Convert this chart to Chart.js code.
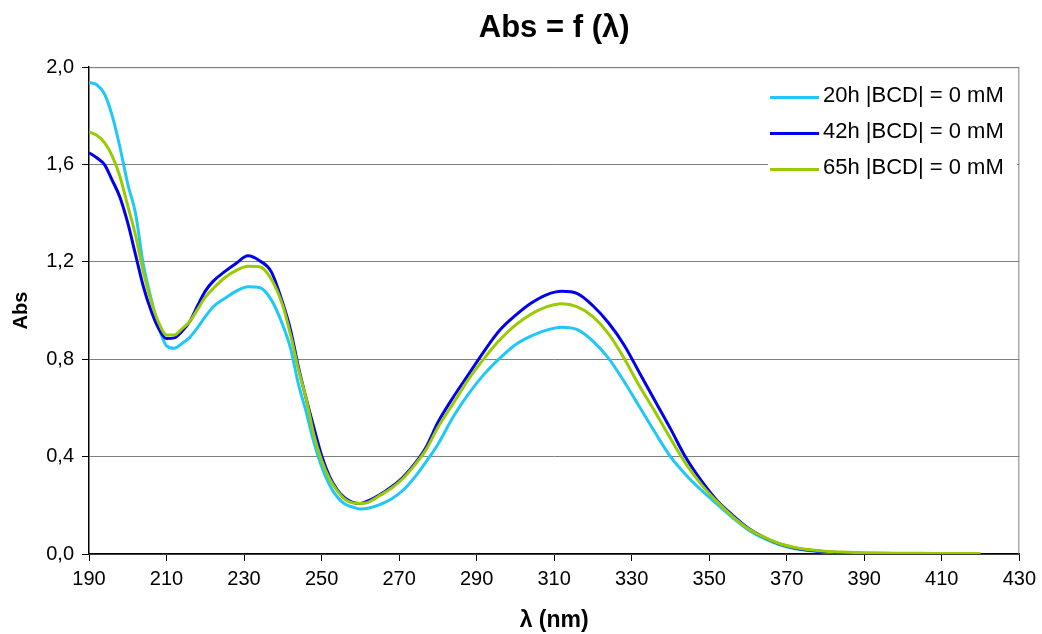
<!DOCTYPE html>
<html>
<head>
<meta charset="utf-8">
<script src="https://cdn.jsdelivr.net/npm/chart.js@4/dist/chart.umd.min.js"></script>
<style>
  html, body { margin: 0; padding: 0; background: #fff; }
  #wrap { width: 1042px; height: 634px; }
</style>
</head>
<body>
<div id="wrap"><canvas id="myChart" width="1042" height="634"></canvas></div>
<script>
// wavelengths (nm) shared by all three spectra
let wavelengths = [190, 192, 194, 196, 198, 200, 202, 204, 206, 208, 210, 212, 214, 216, 218, 220, 222, 225, 228, 231,
    234, 237, 240, 242, 244, 246, 248, 250, 252, 254, 256, 258, 260, 262, 265, 268, 271, 274, 277, 280,
    284, 288, 292, 296, 300, 304, 308, 312, 316, 320, 324, 328, 332, 336, 340, 344, 348, 352, 356, 360,
    364, 368, 372, 376, 380, 384, 388, 392, 396, 400, 405, 410, 415, 420];

let abs20h = [1.937, 1.928, 1.890, 1.80, 1.67, 1.52, 1.40, 1.19, 1.05, 0.93, 0.855, 0.845, 0.865, 0.89, 0.93, 0.975, 1.015, 1.05, 1.08, 1.098,
    1.095, 1.045, 0.94, 0.845, 0.70, 0.585, 0.46, 0.36, 0.285, 0.235, 0.205, 0.193, 0.185, 0.188, 0.203, 0.226, 0.262, 0.315, 0.38, 0.45,
    0.565, 0.66, 0.74, 0.805, 0.86, 0.895, 0.92, 0.932, 0.922, 0.875, 0.805, 0.71, 0.605, 0.50, 0.40, 0.325, 0.262, 0.205, 0.15, 0.10,
    0.065, 0.039, 0.022, 0.013, 0.007, 0.004, 0.003, 0.002, null, null, null, null, null, null];

let abs42h = [1.649, 1.628, 1.60, 1.535, 1.465, 1.36, 1.23, 1.10, 1.00, 0.925, 0.885, 0.888, 0.915, 0.955, 1.02, 1.08, 1.12, 1.16, 1.195, 1.225,
    1.205, 1.16, 1.03, 0.92, 0.77, 0.64, 0.52, 0.405, 0.32, 0.265, 0.23, 0.212, 0.207, 0.218, 0.243, 0.275, 0.315, 0.37, 0.44, 0.54,
    0.645, 0.74, 0.835, 0.92, 0.98, 1.03, 1.065, 1.079, 1.07, 1.02, 0.95, 0.86, 0.745, 0.63, 0.515, 0.395, 0.30, 0.22, 0.16, 0.107,
    0.07, 0.042, 0.025, 0.015, 0.009, 0.005, 0.003, 0.002, null, null, null, null, null, null];

let abs65h = [1.734, 1.72, 1.69, 1.635, 1.55, 1.43, 1.31, 1.16, 1.04, 0.95, 0.90, 0.90, 0.925, 0.955, 1.005, 1.055, 1.09, 1.135, 1.165, 1.182,
    1.18, 1.13, 1.02, 0.90, 0.76, 0.64, 0.49, 0.385, 0.31, 0.26, 0.225, 0.21, 0.207, 0.212, 0.24, 0.27, 0.31, 0.365, 0.43, 0.52,
    0.62, 0.72, 0.805, 0.88, 0.94, 0.985, 1.015, 1.028, 1.015, 0.975, 0.905, 0.805, 0.69, 0.585, 0.475, 0.37, 0.285, 0.215, 0.155, 0.105,
    0.07, 0.043, 0.027, 0.017, 0.011, 0.008, 0.006, 0.005, 0.004, 0.003, 0.003, 0.002, 0.002, 0.002];

let seriesLabels = ["20h |BCD| = 0 mM", "42h |BCD| = 0 mM", "65h |BCD| = 0 mM"];
let seriesColors = ["#1FC8F7", "#0000EE", "#99CC00"];

let FONT = 'Arial, "Liberation Sans", sans-serif';

function toPoints(values) {
    return wavelengths.map((w, i) => ({ x: w, y: values[i] }));
}

// gray frame around the plot area (top + right edges)
const plotFrame = {
    id: 'plotFrame',
    beforeDatasetsDraw(chart) {
        const a = chart.chartArea;
        const c = chart.ctx;
        c.save();
        c.strokeStyle = '#808080';
        c.lineWidth = 1;
        c.beginPath();
        c.moveTo(a.left, a.top + 0.5);
        c.lineTo(a.right - 0.5, a.top + 0.5);
        c.lineTo(a.right - 0.5, a.bottom);
        c.stroke();
        c.restore();
    }
};

// legend drawn inside the plot, top right
const insideLegend = {
    id: 'insideLegend',
    afterDraw(chart) {
        const c = chart.ctx;
        c.save();
        c.fillStyle = '#fff';
        c.fillRect(768, 78, 249, 110);
        const rows = [97.5, 133.5, 169.5];
        c.font = '22px ' + FONT;
        c.textBaseline = 'middle';
        c.textAlign = 'left';
        rows.forEach((y, i) => {
            c.strokeStyle = seriesColors[i];
            c.lineWidth = 3;
            c.beginPath();
            c.moveTo(770, y);
            c.lineTo(819, y);
            c.stroke();
            c.fillStyle = '#000';
            c.fillText(seriesLabels[i], 823, y - 2);
        });
        c.restore();
    }
};

const ctx = document.getElementById('myChart').getContext('2d');
const myChart = new Chart(ctx, {
    type: 'line',
    data: {
        datasets: [0, 1, 2].map((i) => ({
            label: seriesLabels[i],
            data: toPoints([abs20h, abs42h, abs65h][i]),
            borderColor: seriesColors[i],
            backgroundColor: seriesColors[i],
            borderWidth: 3,
            pointRadius: 0,
            cubicInterpolationMode: 'monotone',
            spanGaps: false,
            order: 2 - i
        }))
    },
    options: {
        responsive: false,
        animation: false,
        layout: { padding: { left: 0, right: 22, top: 0, bottom: 0 } },
        plugins: {
            legend: { display: false },
            tooltip: { enabled: false },
            title: {
                display: true,
                fullSize: false,
                text: 'Abs = f (λ)',
                color: '#000',
                font: { family: FONT, size: 31, weight: 'bold' },
                padding: { top: 10, bottom: 20 }
            }
        },
        scales: {
            x: {
                type: 'linear',
                min: 190,
                max: 430,
                afterFit(scale) { scale.height = 80; },
                ticks: {
                    stepSize: 20,
                    color: '#000',
                    font: { family: FONT, size: 20 },
                    padding: 6,
                    maxRotation: 0
                },
                grid: { drawOnChartArea: false, drawTicks: true, tickLength: 7, tickColor: '#000' },
                border: { color: '#000', width: 1.5 },
                title: {
                    display: true,
                    text: 'λ (nm)',
                    color: '#000',
                    font: { family: FONT, size: 23, weight: 'bold' },
                    padding: { top: 0, bottom: 0 }
                }
            },
            y: {
                min: 0,
                max: 2,
                afterFit(scale) { scale.width = 89; },
                ticks: {
                    stepSize: 0.4,
                    color: '#000',
                    font: { family: FONT, size: 20 },
                    padding: 8,
                    callback: (v) => v.toFixed(1).replace('.', ',')
                },
                grid: { color: '#808080', lineWidth: 1, tickLength: 7, tickColor: '#000' },
                border: { color: '#000', width: 1.5 },
                title: {
                    display: true,
                    text: 'Abs',
                    color: '#000',
                    font: { family: FONT, size: 20, weight: 'bold' },
                    padding: { top: 9, bottom: 0 }
                }
            }
        }
    },
    plugins: [plotFrame, insideLegend]
});
</script>
</body>
</html>
